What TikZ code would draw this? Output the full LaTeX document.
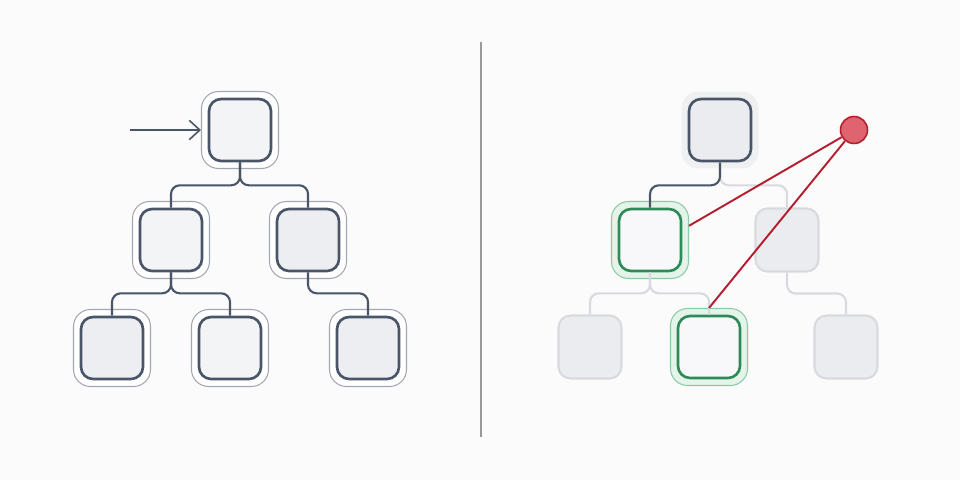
\documentclass[tikz,border=0pt]{standalone}
\usepackage{tikz}
\usetikzlibrary{arrows.meta,positioning}

\definecolor{slate}{HTML}{4A5568}
\definecolor{boxfill}{HTML}{F3F4F6}
\definecolor{boxdark}{HTML}{EDEEF1}
\definecolor{ringline}{HTML}{A3A8B0}
\definecolor{fadefill}{HTML}{EBECEF}
\definecolor{fadeline}{HTML}{D8DADF}
\definecolor{goodline}{HTML}{2E8B57}
\definecolor{goodfill}{HTML}{E5F4EA}
\definecolor{goodring}{HTML}{8CCBA5}
\definecolor{alertline}{HTML}{B41E2E}
\definecolor{alertfill}{HTML}{E0646F}
\definecolor{bggray}{HTML}{FBFBFB}

\begin{document}
\begin{tikzpicture}[
    x=0.02cm, y=-0.02cm,
    >={Straight Barb[length=6pt,width=11pt]},
    box/.style={rectangle, rounded corners=0.24cm, draw=slate, fill=boxfill, line width=1.5pt, minimum size=1.24cm},
    ring/.style={rectangle, rounded corners=0.34cm, draw=ringline, fill=white, line width=0.6pt, minimum size=1.54cm},
    halo/.style={rectangle, rounded corners=0.34cm, fill=fadefill!80, minimum size=1.54cm},
    faded/.style={rectangle, rounded corners=0.24cm, draw=fadeline, fill=fadefill, line width=1.2pt, minimum size=1.26cm},
    goodbox/.style={box, draw=goodline, fill=boxfill!60},
    goodhalo/.style={ring, draw=goodring, fill=goodfill},
    alert/.style={circle, draw=alertline, fill=alertfill, line width=0.9pt, minimum size=0.54cm, inner sep=0pt},
    link/.style={draw=slate, line width=1.2pt, rounded corners=5pt},
    dimlink/.style={draw=fadeline, line width=1.2pt, rounded corners=5pt},
    hit/.style={draw=alertline, line width=1.1pt},
]
    \fill[bggray] (0,0) rectangle (960,480);
    \useasboundingbox (0,0) rectangle (960,480);

    % Left tree
    \node[ring] (lroot-ring) at (240,130) {};
    \node[box] (lroot) at (lroot-ring) {};
    \node[ring] (l2a-ring) at (171,240) {};
    \node[box] (l2a) at (l2a-ring) {};
    \node[ring] (l2b-ring) at (308,240) {};
    \node[box, fill=boxdark] (l2b) at (l2b-ring) {};
    \node[ring] (l3a-ring) at (112,348) {};
    \node[box, fill=boxdark] (l3a) at (l3a-ring) {};
    \node[ring] (l3b-ring) at (230,348) {};
    \node[box] (l3b) at (l3b-ring) {};
    \node[ring] (l3c-ring) at (368,348) {};
    \node[box, fill=boxdark] (l3c) at (l3c-ring) {};

    % Entry arrow
    \coordinate[left=1.42cm of lroot-ring] (entry);
    \draw[->, draw=slate, line width=0.9pt] (entry) -- (lroot-ring.west);

    % Left connections
    \draw[link] (lroot.south) -- ++(0,23) -| (l2a.north);
    \draw[link] (lroot.south) -- ++(0,23) -| (l2b.north);
    \draw[link] (l2a.south) -- ++(0,21) -| (l3a.north);
    \draw[link] (l2a.south) -- ++(0,21) -| (l3b.north);
    \draw[link] (l2b.south) -- ++(0,21) -| (l3c.north);

    % Divider
    \draw[draw=gray!80, line width=0.6pt] (481,42) -- (481,437);

    % Right tree
    \node[halo] (rroot-halo) at (720,130) {};
    \node[box, fill=fadefill] (rroot) at (rroot-halo) {};
    \node[goodhalo] (r2a-ring) at (650,240) {};
    \node[goodbox] (r2a) at (r2a-ring) {};
    \node[faded] (r2b) at (787,240) {};
    \node[faded] (r3a) at (590,347) {};
    \node[goodhalo] (r3b-ring) at (709,347) {};
    \node[goodbox] (r3b) at (r3b-ring) {};
    \node[faded] (r3c) at (846,347) {};

    % Right connections
    \draw[dimlink] (rroot.south) -- ++(0,23) -| (r2b.north);
    \draw[dimlink] (r2a.south) -- ++(0,21) -| (r3a.north);
    \draw[dimlink] (r2a.south) -- ++(0,21) -| (r3b.north);
    \draw[dimlink] (r2b.south) -- ++(0,21) -| (r3c.north);
    \draw[link] (rroot.south) -- ++(0,23) -| (r2a.north);

    % Alert
    \node[alert] (alarm) at (854,130) {};
    \draw[hit] (alarm) -- (r2a-ring.20);
    \draw[hit] (alarm) -- (r3b-ring.north);
\end{tikzpicture}
\end{document}
